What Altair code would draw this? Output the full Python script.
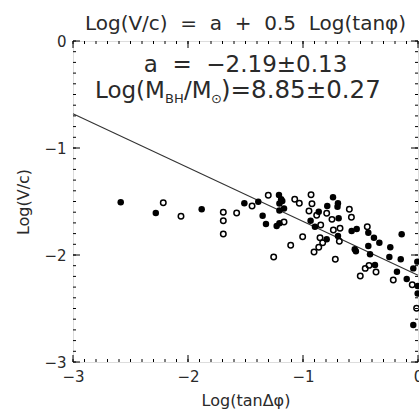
import altair as alt
import pandas as pd

# ---- data ----
filled_x = [-2.585, -2.28, -1.881, -1.510, -1.389, -1.209, -1.19, -1.205, -1.18, -1.205,
            -1.165, -1.351, -1.322, -1.229, -1.205, -0.934, -0.896, -0.863, -0.789, -0.739,
            -0.696, -0.700, -0.690, -0.794, -0.696, -0.577, -0.533, -0.432, -0.383, -0.336,
            -0.432, -0.550, -0.540, -0.417, -0.241, -0.142, -0.249, -0.150, -0.374, -0.183,
            -0.098, -0.041, -0.006, -0.003, -0.003, -0.041]
filled_y = [-1.507, -1.607, -1.573, -1.517, -1.502, -1.439, -1.480, -1.518, -1.495, -1.585,
            -1.566, -1.633, -1.710, -1.729, -1.703, -1.679, -1.735, -1.595, -1.542, -1.461,
            -1.517, -1.548, -1.657, -1.853, -1.822, -1.776, -1.757, -1.791, -1.838, -1.885,
            -1.916, -1.947, -1.966, -1.994, -1.928, -1.807, -2.019, -2.040, -2.093, -2.156,
            -2.224, -2.125, -2.062, -2.290, -2.360, -2.654]
open_x = [-2.215, -2.061, -1.693, -1.693, -1.693, -1.577, -1.443, -1.302, -1.165, -1.072,
          -1.032, -0.930, -0.922, -0.948, -0.881, -0.794, -0.748, -0.597, -0.579, -0.846,
          -0.736, -0.678, -0.684, -0.852, -0.829, -0.863, -0.904, -1.003, -1.107, -1.255,
          -0.719, -0.441, -0.426, -0.459, -0.502, -0.365, -0.215, -0.050, -0.012]
open_y = [-1.511, -1.638, -1.601, -1.679, -1.804, -1.607, -1.542, -1.442, -1.692, -1.479,
          -1.517, -1.436, -1.520, -1.589, -1.629, -1.610, -1.667, -1.573, -1.648, -1.720,
          -1.766, -1.751, -1.872, -1.838, -1.885, -1.928, -1.972, -1.829, -1.909, -2.019,
          -2.040, -1.735, -2.097, -2.125, -2.196, -2.159, -2.234, -2.277, -2.498]
fit_x = [-3.0, 0.0]
fit_y = [-0.68, -2.19]

major_ticks = [-3, -2, -1, 0]
minor_ticks = [round(-3 + 0.1 * i, 1) for i in range(31)]

NB = "\u00a0"
title_text = f"Log(V/c){NB}{NB}={NB}{NB}a{NB}{NB}+{NB}{NB}0.5{NB}{NB}Log(tanφ)"
a_text = f"a{NB}{NB}={NB}{NB}−2.19±0.13"

W, H = 345, 321
FONT = "DejaVu Sans"
TXT = "#2a2a2a"

xs = alt.Scale(domain=[-3, 0], nice=False, zero=False)
ys = alt.Scale(domain=[-3, 0], nice=False, zero=False)

df_f = pd.DataFrame({"x": filled_x, "y": filled_y})
df_o = pd.DataFrame({"x": open_x, "y": open_y})
df_line = pd.DataFrame({"x": fit_x, "y": fit_y})
df_major = pd.DataFrame({"t": major_ticks})
df_minor = pd.DataFrame({"t": minor_ticks})

xaxis = alt.Axis(values=major_ticks, format="d", ticks=False, domain=False, grid=False,
                 labelFontSize=15, labelPadding=7, labelFlush=False, labelColor=TXT,
                 title="Log(tanΔφ)", titleFontSize=16, titleFontWeight="normal",
                 titlePadding=8, titleColor=TXT, labelFont=FONT, titleFont=FONT)
yaxis = alt.Axis(values=major_ticks, format="d", ticks=False, domain=False, grid=False,
                 labelFontSize=15, labelPadding=7, labelFlush=False, labelColor=TXT,
                 title="Log(V/c)", titleFontSize=16, titleFontWeight="normal",
                 titlePadding=12, titleColor=TXT, labelFont=FONT, titleFont=FONT)

line = alt.Chart(df_line).mark_line(color="#333", strokeWidth=1.1).encode(
    x=alt.X("x:Q", scale=xs, axis=xaxis), y=alt.Y("y:Q", scale=ys, axis=yaxis))

filled = alt.Chart(df_f).mark_circle(size=42, color="black", opacity=1).encode(
    x=alt.X("x:Q", scale=xs), y=alt.Y("y:Q", scale=ys))
opens = alt.Chart(df_o).mark_point(shape="circle", filled=False, size=30, strokeWidth=1.5,
                                    color="black", opacity=1).encode(
    x=alt.X("x:Q", scale=xs), y=alt.Y("y:Q", scale=ys))

def xticks(df, length):
    b = alt.Chart(df).mark_rule(color="black", strokeWidth=1).encode(
        x=alt.X("t:Q", scale=xs), y=alt.value(H), y2=alt.value(H - length))
    t = alt.Chart(df).mark_rule(color="black", strokeWidth=1).encode(
        x=alt.X("t:Q", scale=xs), y=alt.value(0), y2=alt.value(length))
    return b + t

def yticks(df, length):
    l = alt.Chart(df).mark_rule(color="black", strokeWidth=1).encode(
        y=alt.Y("t:Q", scale=ys), x=alt.value(0), x2=alt.value(length))
    r = alt.Chart(df).mark_rule(color="black", strokeWidth=1).encode(
        y=alt.Y("t:Q", scale=ys), x=alt.value(W), x2=alt.value(W - length))
    return l + r

def label(text, x, y, size, align="left"):
    return alt.Chart(pd.DataFrame({"t": [text]})).mark_text(
        font=FONT, fontSize=size, align=align, baseline="alphabetic", color=TXT).encode(
        x=alt.value(x), y=alt.value(y), text="t:N")

texts = (
    label(title_text, W / 2, -11, 20, "center")
    + label(a_text, W / 2, 31, 23, "center")
    + label("Log(M", 22, 57, 23)
    + label("BH", 92, 62, 13)
    + label("/M", 111, 57, 23)
    + label("⊙", 138, 62, 13)
    + label(")=8.85±0.27", 148, 57, 24.5)
)

chart = alt.layer(
    line,
    xticks(df_minor, 3), xticks(df_major, 7),
    yticks(df_minor, 3), yticks(df_major, 7),
    opens, filled, texts,
).properties(
    width=W, height=H,
    autosize=alt.AutoSizeParams(type="none"),
    padding={"left": 73, "top": 41, "right": 1, "bottom": 49},
).configure_view(stroke="black", strokeWidth=1).configure(background="white")

chart.save("out.html", embed_options={"renderer": "svg", "actions": False})
